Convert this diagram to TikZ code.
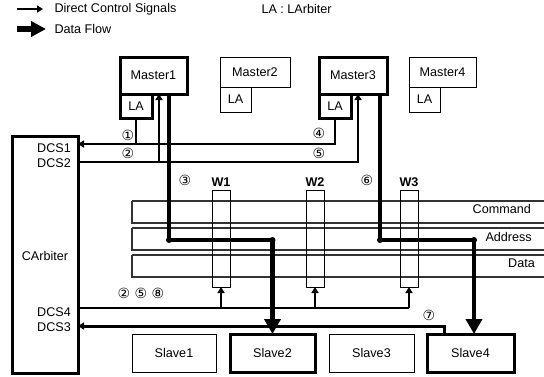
\documentclass[tikz,border=0pt]{standalone}
\usepackage{fontspec}
\setmainfont{Liberation Sans}
\newfontfamily\circfont{DejaVu Sans}
\usetikzlibrary{arrows.meta}
\tikzset{
  unit/.style={draw,line width=.8pt,inner sep=0,outer sep=0,anchor=north west},
  busy/.style={unit,line width=3pt},
  ctl/.style={-{Triangle[length=6pt,width=7pt]}},
  dflow/.style={line width=4.5pt,-{Triangle[length=15pt,width=16pt]}},
  num/.style={font=\circfont\fontsize{14}{14}\selectfont,inner sep=0},
  bus/.style={draw=black!80,line width=1.4pt,dash pattern=on .6pt off .3pt},
}
\begin{document}
\begin{tikzpicture}[x=1pt,y=-1pt,font=\fontsize{12.6}{14}\selectfont]
\clip (0,0) rectangle (544,376);
% legend
\node[anchor=west] (lgc) at (51,9) {Direct Control Signals};
\node[anchor=west] (lgd) at (51,29) {Data Flow};
\node[anchor=west] (lgla) at (258,9) {LA : LArbiter};
\coordinate (lgcs) at (17,9);
\coordinate (lgds) at (17,29);
\draw[ctl,line width=2pt] (lgcs) -- ([xshift=-8]lgc.west);
\draw[line width=6pt,-{Triangle[length=15pt,width=15pt]}] (lgds) -- ([xshift=-5]lgd.west);
% masters
\node[busy,minimum width=67,minimum height=37] (m1) at (120,57) {Master1};
\node[busy,minimum width=32,minimum height=24] (la1) at (120,94) {LA};
\node[unit,minimum width=70,minimum height=30] (m2) at (220,57) {Master2};
\node[unit,minimum width=31,minimum height=25] (la2) at (220,87) {LA};
\node[busy,minimum width=68,minimum height=37] (m3) at (319,57) {Master3};
\node[busy,minimum width=32,minimum height=24] (la3) at (319,94) {LA};
\node[unit,minimum width=67,minimum height=30] (m4) at (409,57) {Master4};
\node[unit,minimum width=31,minimum height=25] (la4) at (409,87) {LA};
% central arbiter
\node[busy,minimum width=66,minimum height=237] (c) at (12,136) {};
\node (cl) at (45,256) {CArbiter};
\node[anchor=east,inner sep=0] (dcs1) at (71,148) {DCS1};
\node[anchor=east,inner sep=0] (dcs2) at (71,163) {DCS2};
\node[anchor=east,inner sep=0] (dcs4) at (71,312) {DCS4};
\node[anchor=east,inner sep=0] (dcs3) at (71,327) {DCS3};
% buses
\draw[bus] (132,201) rectangle (560,223);
\draw[bus] (132,228) rectangle (560,250);
\draw[bus] (132,255) rectangle (560,277);
\node[anchor=east,inner sep=0] (cmd) at (531,209) {Command};
\node[anchor=east,inner sep=0] (adr) at (532,237) {Address};
\node[anchor=east,inner sep=0] (dat) at (535,263) {Data};
% windows
\node[unit,minimum width=18,minimum height=97] (w1) at (212,190) {};
\node[unit,minimum width=18,minimum height=97] (w2) at (306,190) {};
\node[unit,minimum width=18,minimum height=97] (w3) at (400,190) {};
\foreach \w/\t in {w1/W1,w2/W2,w3/W3}
  \node[above,font=\fontsize{12.6}{14}\selectfont\bfseries] (\w l) at (\w.north) {\t};
% slaves
\node[unit,minimum width=84,minimum height=38] (s1) at (132,334) {Slave1};
\node[busy,minimum width=85,minimum height=38] (s2) at (230,334) {Slave2};
\node[unit,minimum width=85,minimum height=38] (s3) at (329,334) {Slave3};
\node[busy,minimum width=87,minimum height=38] (s4) at (427,334) {Slave4};
% levels and taps
\coordinate (y1) at (0,144);
\coordinate (y2) at (0,162);
\coordinate (ya) at (0,240);
\coordinate (y4) at (0,308);
\coordinate (y3) at (0,326);
\coordinate (m1c) at ([xshift=5.5]m1.south);
\coordinate (m1d) at ([xshift=15.5]m1.south);
\coordinate (m3c) at ([xshift=5]m3.south);
\coordinate (m3d) at ([xshift=27]m3.south);
\coordinate (s4c) at ([xshift=-26.5]s4.north);
\coordinate (s4d) at ([xshift=3.5]s4.north);
% control signals
\draw[line width=1.3pt] (la1.south) -- (la1.south |- y1);
\draw[ctl,line width=2.3pt] (la3.south) |- (c.east |- y1);
\draw[ctl,line width=1.6pt] (c.east |- y2) -| (m3c);
\draw[ctl,line width=1.6pt] (m1c |- y2) -- (m1c);
\draw[line width=2pt] (c.east |- y4) -- (w3.south |- y4);
\foreach \w in {w1,w2,w3}
  \draw[ctl,line width=2pt] (\w.south |- y4) -- (\w.south);
\draw[ctl,line width=3pt] (s4c) |- (c.east |- y3);
% data flow
\draw[dflow] (m1d) -- (m1d |- ya) -| (s2.north);
\draw[dflow] (m3d) -- (m3d |- ya) -| (s4d);
\foreach \p in {m1d,m3d}
  \fill (\p |- ya) circle (3);
\fill (s2.north |- ya) circle (3);
\fill (s4d |- ya) circle (3);
% steps
\node[num] (n1) at (128,135) {①};
\node[num] (n2) at (128,153) {②};
\node[num] (n3) at (185,180) {③};
\node[num] (n4) at (319,133) {④};
\node[num] (n5) at (319,153) {⑤};
\node[num] (n6) at (367,180) {⑥};
\node[num] (n7) at (429,315) {⑦};
\node[num] (n258) at (141,293) {② ⑤ ⑧};
\end{tikzpicture}
\end{document}
